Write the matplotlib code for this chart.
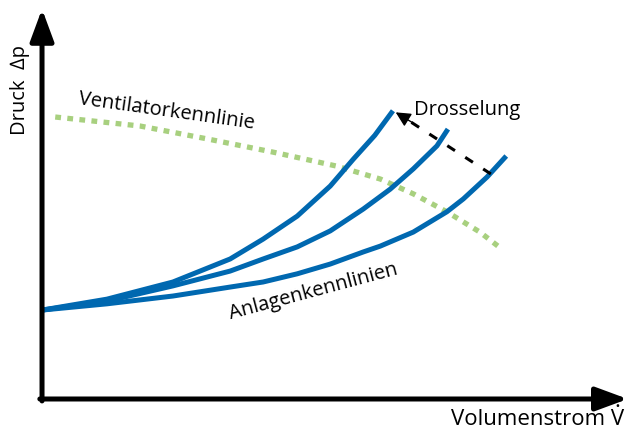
"""
Anlagenkennlinien und Ventilatorkennlinie (Drosselung).
"""
import matplotlib
matplotlib.use('Agg')
import matplotlib.pyplot as plt

plt.rcParams['font.family'] = ['Open Sans', 'DejaVu Sans']

# ===== Data (Volumenstrom, Druck) in relative units =====
anlage1_v = [0.0, 11.8, 23.8, 34.2, 40.2, 46.4, 52.4, 56.6, 60.5, 63.8]
anlage1_p = [22.8, 25.6, 30.0, 35.9, 41.0, 46.9, 54.6, 61.5, 67.6, 73.9]

anlage2_v = [0.0, 11.8, 23.8, 34.2, 40.2, 46.4, 52.4, 58.4, 63.3, 67.5, 71.8, 73.8]
anlage2_p = [22.8, 25.1, 29.0, 32.8, 35.9, 39.0, 43.1, 48.7, 53.8, 59.0, 64.9, 69.2]

anlage3_v = [0.0, 11.8, 23.8, 34.2, 40.2, 46.4, 52.4, 58.4, 61.5, 67.5, 73.6, 76.6, 80.9, 84.4]
anlage3_p = [22.8, 24.4, 26.4, 28.7, 30.0, 32.1, 34.6, 37.7, 39.2, 42.8, 48.0, 51.3, 56.9, 62.3]

vent_v = [2.4, 17.8, 30.0, 42.0, 53.6, 61.5, 67.5, 73.6, 79.6, 82.9]
vent_p = [72.3, 70.0, 66.7, 63.3, 59.7, 56.4, 52.6, 48.0, 42.8, 39.2]

# Drosselung: from end of curve 3 towards end of curve 1
drossel_start = (81.6, 57.7)
drossel_end = (64.3, 73.5)

BLUE = '#0068b0'
GREEN = '#a8d07f'

# ===== Plot =====
fig = plt.figure(figsize=(6.3, 4.31), dpi=100)
ax = fig.add_axes([0, 0, 1, 1])
ax.set_xlim(-7.64, 106.9)
ax.set_ylim(-7.95, 102.56)
ax.axis('off')

# axes with arrows
head = '-|>,head_length=1.95,head_width=0.72'
ax.annotate('', xy=(0, 100), xytext=(0, -0.5),
            arrowprops=dict(arrowstyle=head, lw=3.6, color='black', shrinkA=0, shrinkB=0))
ax.annotate('', xy=(106.5, 0), xytext=(-0.4, 0),
            arrowprops=dict(arrowstyle=head, lw=3.6, color='black', shrinkA=0, shrinkB=0))

# curves
ax.plot(vent_v, vent_p, color=GREEN, lw=3.8, ls=(0, (1.1, 1.2)))
for v, p in [(anlage1_v, anlage1_p), (anlage2_v, anlage2_p), (anlage3_v, anlage3_p)]:
    ax.plot(v, p, color=BLUE, lw=3.6, solid_capstyle='butt', solid_joinstyle='round')

# Drosselung arrow
ax.plot([drossel_start[0], drossel_end[0] + 1.8], [drossel_start[1], drossel_end[1] - 1.6],
        color='black', lw=2.2, ls=(0, (3, 4)))
ax.annotate('', xy=drossel_end, xytext=(drossel_end[0] + 3.0, drossel_end[1] - 2.6),
            arrowprops=dict(arrowstyle='-|>,head_length=0.9,head_width=0.45',
                            lw=1, color='black', shrinkA=0, shrinkB=0))

# texts
ax.text(-4.0, 79.5, 'Druck  \u2206p', rotation=90, ha='center', va='center', fontsize=14.5)
xlab = ax.text(105.8, -6.5, 'Volumenstrom V', ha='right', va='baseline', fontsize=16)
ax.text(22.7, 74.0, 'Ventilatorkennlinie', rotation=-8, ha='center', va='center', fontsize=14.5)
ax.text(77.2, 74.4, 'Drosselung', ha='center', va='center', fontsize=14.5)
ax.text(49.4, 27.7, 'Anlagenkennlinien', rotation=15, ha='center', va='center', fontsize=14.5)

# dot above the V of the x label
fig.canvas.draw()
renderer = fig.canvas.get_renderer()
x_right = xlab.get_window_extent(renderer).x1
tmp = ax.text(0, 0, 'V', fontsize=16)
w_v = tmp.get_window_extent(renderer).width
tmp.remove()
x_dot = ax.transData.inverted().transform((x_right - w_v / 2, 0))[0]
ax.text(x_dot, -1.8, '.', ha='center', va='baseline', fontsize=16)

fig.savefig('out.png', dpi=100)
